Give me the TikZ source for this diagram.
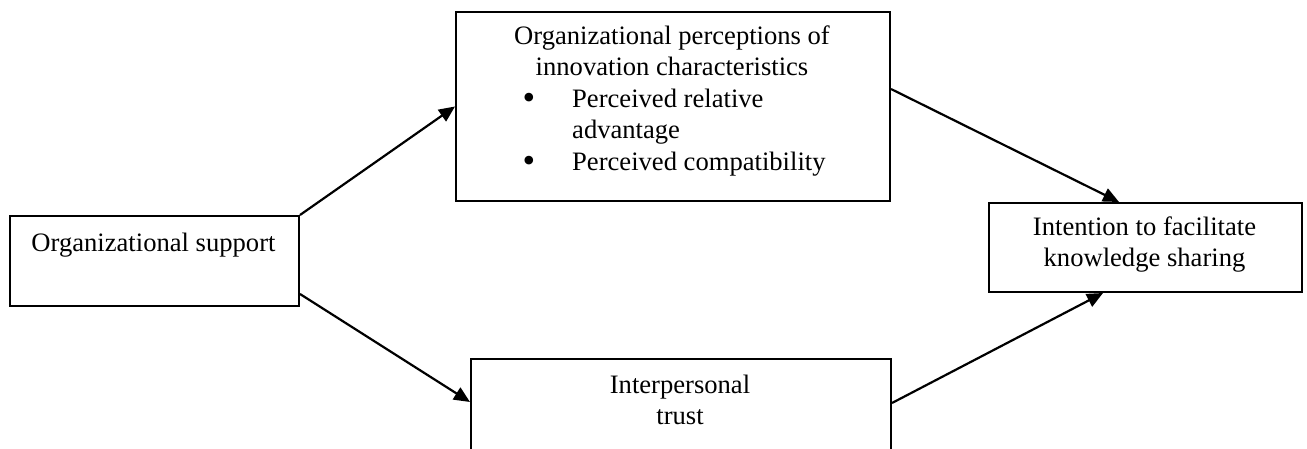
\documentclass[tikz,border=0pt]{standalone}
\usepackage{fontspec}
\setmainfont{Liberation Serif}
\usetikzlibrary{arrows.meta}
\begin{document}
\begin{tikzpicture}[x=1pt,y=-1pt,
  box/.style={draw,line width=2pt,inner sep=0pt,anchor=north west},
  txt/.style={inner sep=0pt,anchor=base,font=\fontsize{26.6}{31}\selectfont},
  item/.style={txt,anchor=base west},
  dot/.style={inner sep=0pt,anchor=base,font=\fontsize{36}{31}\selectfont},
  link/.style={line width=2.2pt,-{Triangle[length=16pt,width=14pt]}}]
\useasboundingbox (0,0) rectangle (1307,449);

% boxes
\node[box,minimum width=289pt,minimum height=90pt]  (sup)  at (9,215) {};
\node[box,minimum width=434pt,minimum height=189pt] (perc) at (455,11) {};
\node[box,minimum width=313pt,minimum height=89pt]  (int)  at (988,202) {};
\node[box,minimum width=420pt,minimum height=122pt] (tru)  at (470,358) {};

% texts
\node[txt] (tsup) at (153.5,252) {Organizational support};

\node[txt] (tp1) at (672,45) {Organizational perceptions of};
\node[txt] (tp2) at (672,76) {innovation characteristics};
\node[dot] (bu1) at (529,110) {•};
\node[item] (tp3) at (572,108) {Perceived relative};
\node[item] (tp4) at (572,139) {advantage};
\node[dot] (bu2) at (529,173) {•};
\node[item] (tp5) at (572,171) {Perceived compatibility};

\node[txt] (ti1) at (1144.5,236) {Intention to facilitate};
\node[txt] (ti2) at (1144.5,266) {knowledge sharing};

\node[txt] (tt1) at (680,393) {Interpersonal};
\node[txt] (tt2) at (680,424) {trust};

% connectors
\draw[link] (sup.north east) -- (perc.west);
\draw[link] ([yshift=13pt]sup.south east) -- ([yshift=18pt]tru.west);
\draw[link] ([yshift=17.5pt]perc.east) -- ([xshift=-26.5pt]int.north);
\draw[link] ([yshift=17pt]tru.east) -- ([xshift=-42.5pt]int.south);
\end{tikzpicture}
\end{document}
